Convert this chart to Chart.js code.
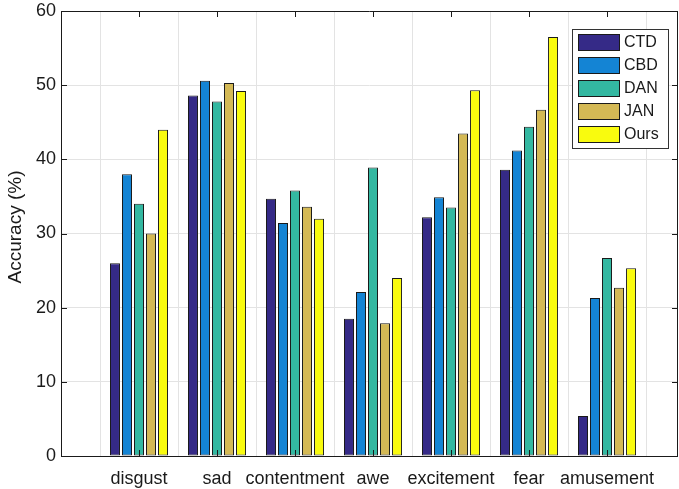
<!DOCTYPE html>
<html>
<head>
<meta charset="utf-8">
<script src="https://cdn.jsdelivr.net/npm/chart.js@4/dist/chart.umd.min.js"></script>
<style>
html, body { margin: 0; padding: 0; background: #fff; }
</style>
</head>
<body>
<canvas id="myChart" width="679" height="489"></canvas>
<script>
'use strict';
var categories = ['disgust', 'sad', 'contentment', 'awe', 'excitement', 'fear', 'amusement'];
var seriesNames = ['CTD', 'CBD', 'DAN', 'JAN', 'Ours'];
var seriesColors = ['#352a87', '#1484d4', '#33b8a1', '#d4b955', '#f9fb0e'];
var ctd = [26.0, 48.6, 34.7, 18.5, 32.2, 38.6, 5.4];
var cbd = [38.0, 50.6, 31.4, 22.1, 34.9, 41.2, 21.3];
var dan = [34.0, 47.8, 35.8, 38.9, 33.5, 44.4, 26.7];
var jan = [30.0, 50.3, 33.6, 17.9, 43.5, 46.7, 22.7];
var ours = [44.0, 49.2, 32.0, 24.0, 49.3, 56.5, 25.3];
var yTicks = [0, 10, 20, 30, 40, 50, 60];
var yTitle = 'Accuracy (%)';

var allSeries = [ctd, cbd, dan, jan, ours];
var FONT = 'Liberation Sans, Arial, Helvetica, sans-serif';

var datasets = allSeries.map(function (vals, k) {
    return {
        label: seriesNames[k],
        data: vals.map(function (v, i) { return { x: i + 1, y: v }; }),
        backgroundColor: seriesColors[k],
        borderColor: '#1a1a1a',
        borderWidth: 1,
        borderSkipped: false,
        categoryPercentage: 0.77,
        barPercentage: 0.833
    };
});

// frame, inward ticks, y title and boxed legend, MATLAB style
var framePlugin = {
    id: 'frame',
    afterDraw: function (chart) {
        var c = chart.ctx, a = chart.chartArea;
        var xs = chart.scales.x, ys = chart.scales.y;
        c.save();
        c.strokeStyle = '#1a1a1a';
        c.lineWidth = 1;
        c.beginPath();
        c.rect(a.left + 0.5, a.top + 0.5, a.right - a.left - 1, a.bottom - a.top);
        c.stroke();
        c.beginPath();
        yTicks.forEach(function (t) {
            var py = Math.round(ys.getPixelForValue(t)) + 0.5;
            c.moveTo(a.left, py); c.lineTo(a.left + 6, py);
            c.moveTo(a.right, py); c.lineTo(a.right - 6, py);
        });
        categories.forEach(function (n, i) {
            var px = Math.round(xs.getPixelForValue(i + 1)) + 0.5;
            c.moveTo(px, a.bottom); c.lineTo(px, a.bottom - 6);
            c.moveTo(px, a.top); c.lineTo(px, a.top + 6);
        });
        c.stroke();

        // y title
        c.save();
        c.translate(16, 227);
        c.rotate(-Math.PI / 2);
        c.font = '19px ' + FONT;
        c.fillStyle = '#1a1a1a';
        c.textAlign = 'center';
        c.textBaseline = 'middle';
        c.fillText(yTitle, 0, 0);
        c.restore();

        // legend
        var lx = 572, ly = 29, lw = 96, lh = 119;
        c.fillStyle = '#fff';
        c.fillRect(lx, ly, lw, lh);
        c.strokeStyle = '#333';
        c.strokeRect(lx + 0.5, ly + 0.5, lw, lh);
        c.font = '16px ' + FONT;
        c.textBaseline = 'middle';
        chart.data.datasets.forEach(function (ds, k) {
            var sy = ly + 5 + k * 23;
            c.fillStyle = ds.backgroundColor;
            c.fillRect(lx + 6, sy, 42, 17);
            c.strokeStyle = '#1a1a1a';
            c.strokeRect(lx + 6.5, sy + 0.5, 41, 16);
            c.fillStyle = '#1a1a1a';
            c.fillText(ds.label, lx + 52, sy + 9);
        });
        c.restore();
    }
};

var ctx = document.getElementById('myChart').getContext('2d');
var myChart = new Chart(ctx, {
    type: 'bar',
    data: { datasets: datasets },
    options: {
        responsive: false,
        animation: false,
        devicePixelRatio: 1,
        layout: { padding: { left: 0, right: 1, top: 11, bottom: 0 } },
        plugins: {
            legend: { display: false },
            tooltip: { enabled: false }
        },
        scales: {
            x: {
                type: 'linear',
                min: 0,
                max: 7.91,
                offset: false,
                afterBuildTicks: function (scale) {
                    scale.ticks = categories.map(function (n, i) { return { value: i + 1 }; });
                },
                afterFit: function (scale) {
                    scale.height = 33;
                    scale.paddingLeft = 0;
                    scale.paddingRight = 0;
                },
                grid: { color: '#e3e3e3', drawTicks: false },
                border: { display: false },
                ticks: {
                    autoSkip: false,
                    maxRotation: 0,
                    padding: 12,
                    color: '#1a1a1a',
                    font: { family: FONT, size: 18 },
                    callback: function (v) { return categories[v - 1] || ''; }
                }
            },
            y: {
                min: 0,
                max: 60,
                afterBuildTicks: function (scale) {
                    scale.ticks = yTicks.map(function (v) { return { value: v }; });
                },
                afterFit: function (scale) {
                    scale.width = 61;
                    scale.paddingTop = 0;
                    scale.paddingBottom = 0;
                },
                grid: { color: '#e3e3e3', drawTicks: false },
                border: { display: false },
                ticks: {
                    padding: 5,
                    color: '#1a1a1a',
                    font: { family: FONT, size: 18 }
                }
            }
        }
    },
    plugins: [framePlugin]
});
</script>
</body>
</html>
